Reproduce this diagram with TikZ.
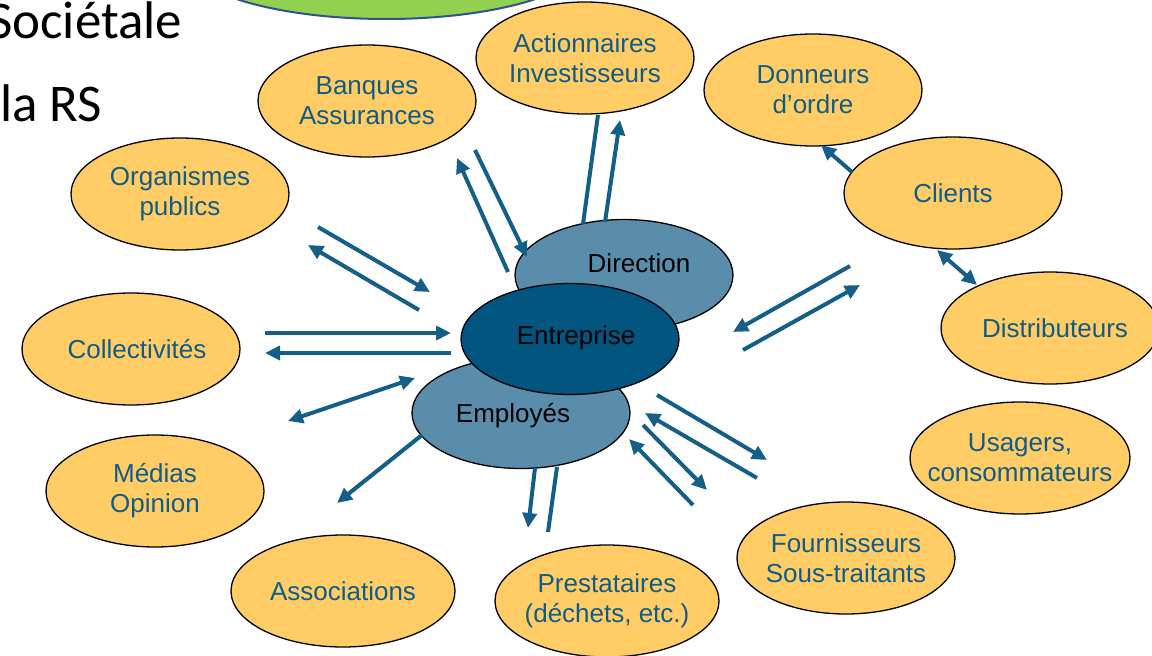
\documentclass[tikz,border=0pt]{standalone}
\usepackage{fontspec}
\setmainfont{Liberation Sans}
\newfontfamily\calfont{Carlito}
\usetikzlibrary{shapes.geometric,arrows.meta}
\definecolor{orangefill}{HTML}{FFCC66}
\definecolor{txtblue}{HTML}{115C86}
\definecolor{arrblue}{HTML}{145F87}
\definecolor{midblue}{HTML}{5A8CAB}
\definecolor{darkblue}{HTML}{01557F}
\definecolor{greenfill}{HTML}{92D050}
\definecolor{greenline}{HTML}{2F528F}
\begin{document}
\begin{tikzpicture}[x=1pt,y=-1pt,
  stake/.style={ellipse,draw=black,line width=1.3pt,fill=orangefill,inner ysep=0pt,inner xsep=-18pt,
    minimum width=218pt,minimum height=112pt,text=txtblue,font=\fontsize{26}{30}\selectfont,align=center},
  core/.style={ellipse,draw=black,line width=1.3pt,inner sep=0pt,minimum width=218pt,minimum height=111pt},
  coretxt/.style={inner sep=0pt,text=black,font=\fontsize{26}{30}\selectfont},
  bigtxt/.style={inner sep=0pt,anchor=base west,font=\calfont\fontsize{53}{60}\selectfont},
  tip/.style={-{Triangle[length=15pt,width=14pt]}},
  link/.style={draw=arrblue,line width=4pt,tip},
  both/.style={draw=arrblue,line width=4pt,{Triangle[length=15pt,width=14pt]}-{Triangle[length=15pt,width=14pt]}},
  plainlink/.style={draw=arrblue,line width=4pt}]
\useasboundingbox (0,0) rectangle (1152,656);

% green ellipse at top
\node[ellipse,draw=greenline,line width=2pt,fill=greenfill,minimum width=404pt,minimum height=122pt,inner sep=0pt] (top) at (386,-42) {};

% big text
\node[bigtxt] (soc) at (-12,38) {Sociétale};
\node[bigtxt] (rs) at (0,121) {la RS};

% stakeholders
\node[stake] (banq) at (367,101) {Banques\\Assurances};
\node[stake] (acti) at (585,58) {Actionnaires\\Investisseurs};
\node[stake] (donn) at (813,90) {Donneurs\\d’ordre};
\node[stake] (clie) at (953,193) {Clients};
\node[stake] (dist) at (1050,328) {\hspace*{10pt}Distributeurs};
\node[stake] (orga) at (180,194) {Organismes\\publics};
\node[stake] (coll) at (131,349) {\hspace*{12pt}Collectivités};
\node[stake] (medi) at (155,491) {Médias\\Opinion};
\node[stake,minimum width=224pt] (asso) at (343,591) {Associations};
\node[stake,minimum width=224pt] (pres) at (607,601) {Prestataires\\(déchets, etc.)};
\node[stake] (four) at (846,558) {Fournisseurs\\Sous-traitants};
\node[stake,minimum width=220pt] (usag) at (1020,458) {Usagers,\\consommateurs};

% core
\node[core,fill=midblue] (dir) at (624,275) {};
\node[coretxt] (dirt) at (639,263) {Direction};
\node[core,fill=midblue] (emp) at (521,413) {};
\node[coretxt] (empt) at (513,416) {Employés};
\node[core,fill=darkblue] (ent) at (570,339) {};
\node[coretxt] (entt) at (576,338) {Entreprise};

% connector end points
\coordinate (a1s) at (318,227); \coordinate (a1e) at (430,292);
\coordinate (a2s) at (419,310); \coordinate (a2e) at (308,245);
\coordinate (b1s) at (265,333); \coordinate (b1e) at (451,333);
\coordinate (b2s) at (451,353); \coordinate (b2e) at (265,353);
\coordinate (c1s) at (288,421); \coordinate (c1e) at (415,378);
\coordinate (d1s) at (422,435); \coordinate (d1e) at (337,503);
\coordinate (e1s) at (508,272); \coordinate (e1e) at (457,158);
\coordinate (e2s) at (475,150); \coordinate (e2e) at (527,257);
\coordinate (f1s) at (583,224); \coordinate (f1e) at (598,115);
\coordinate (f2s) at (605,222); \coordinate (f2e) at (620,120);
\coordinate (g1s) at (850,266); \coordinate (g1e) at (733,332);
\coordinate (g2s) at (743,350); \coordinate (g2e) at (860,285);
\coordinate (h1s) at (852,172); \coordinate (h1e) at (821,145);
\coordinate (i1s) at (937,250); \coordinate (i1e) at (977,285);
\coordinate (j1s) at (657,395); \coordinate (j1e) at (767,460);
\coordinate (j2s) at (757,478); \coordinate (j2e) at (645,413);
\coordinate (j3s) at (643,425); \coordinate (j3e) at (707,490);
\coordinate (j4s) at (693,505); \coordinate (j4e) at (629,439);
\coordinate (k1s) at (535,468); \coordinate (k1e) at (528,528);
\coordinate (k2s) at (548,532); \coordinate (k2e) at (557,467);

% connectors
\draw[link] (a1s) -- (a1e);
\draw[link] (a2s) -- (a2e);
\draw[link] (b1s) -- (b1e);
\draw[link] (b2s) -- (b2e);
\draw[both] (c1s) -- (c1e);
\draw[link] (d1s) -- (d1e);
\draw[link] (e1s) -- (e1e);
\draw[link] (e2s) -- (e2e);
\draw[plainlink] (f1s) -- (f1e);
\draw[link] (f2s) -- (f2e);
\draw[link] (g1s) -- (g1e);
\draw[link] (g2s) -- (g2e);
\draw[link] (h1s) -- (h1e);
\draw[both] (i1s) -- (i1e);
\draw[link] (j1s) -- (j1e);
\draw[link] (j2s) -- (j2e);
\draw[link] (j3s) -- (j3e);
\draw[link] (j4s) -- (j4e);
\draw[link] (k1s) -- (k1e);
\draw[plainlink] (k2s) -- (k2e);
\end{tikzpicture}
\end{document}
